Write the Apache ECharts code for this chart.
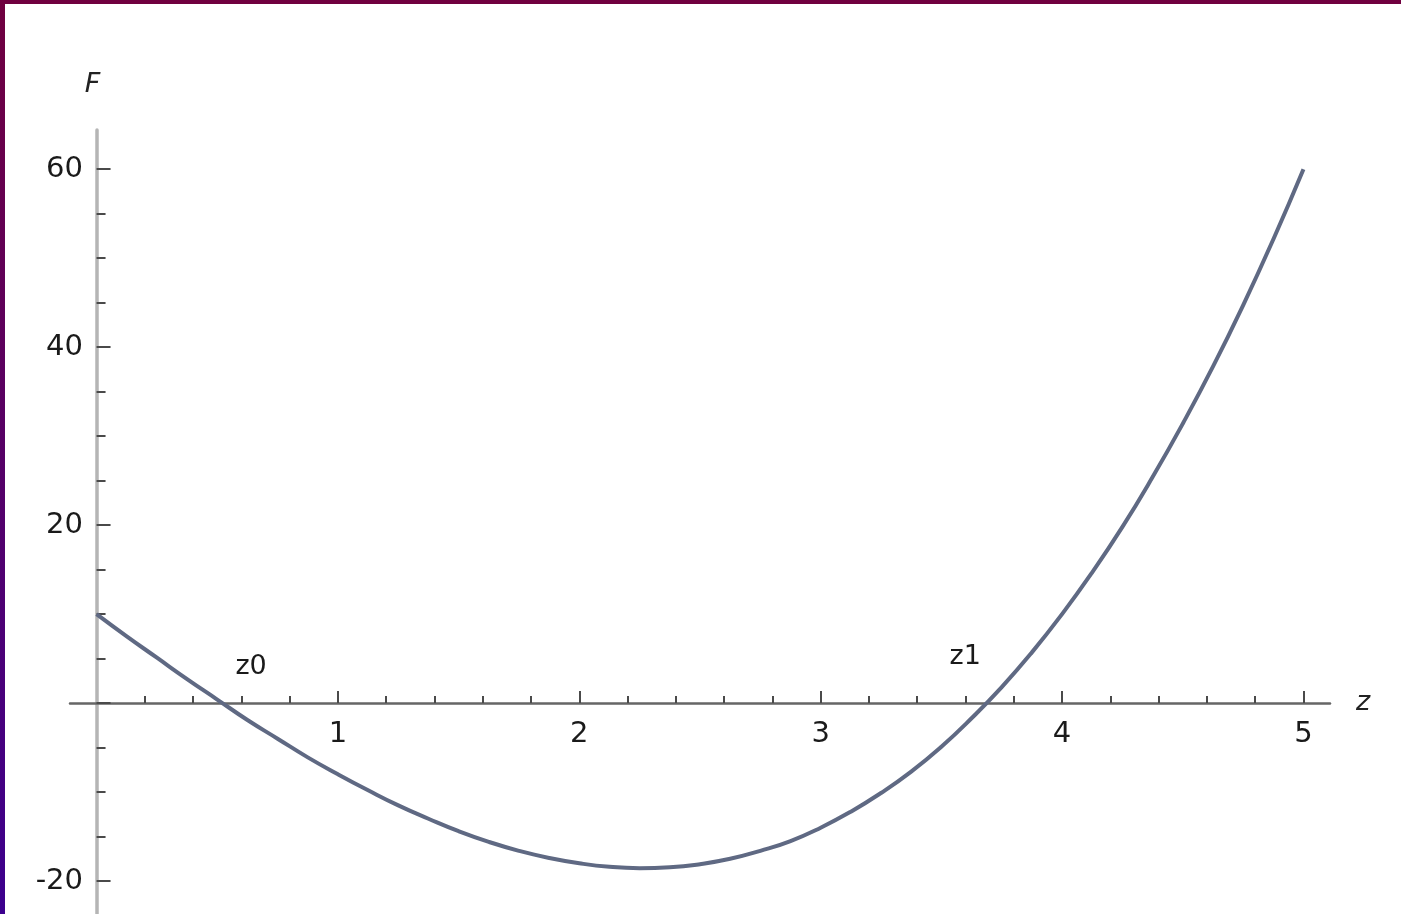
<!DOCTYPE html>
<html lang="en">

<head>
    <meta charset="UTF-8">
    <title>F(z)</title>
    <script src="https://cdn.jsdelivr.net/npm/echarts@6/dist/echarts.min.js"></script>
    <style>
        body {
            margin: 0;
            background: #fff;
        }

        #wrap {
            position: relative;
            width: 1401px;
            height: 914px;
            overflow: hidden;
        }

        #chart {
            position: absolute;
            left: 0;
            top: 0;
            width: 1401px;
            height: 914px;
        }

        .edge-top {
            position: absolute;
            left: 0;
            top: 0;
            width: 1401px;
            height: 4px;
            background: #70003f;
        }

        .edge-left {
            position: absolute;
            left: 0;
            top: 0;
            width: 5px;
            height: 914px;
            background: linear-gradient(#70003f, #3c008e);
        }
    </style>
</head>

<body>
    <div id="wrap">
        <div id="chart"></div>
        <div class="edge-top"></div>
        <div class="edge-left"></div>
    </div>

    <script type="text/javascript">
        // values
        var zValues = [0, 0.125, 0.25, 0.375, 0.5, 0.625, 0.75, 0.875, 1,
            1.125, 1.25, 1.375, 1.5, 1.625, 1.75, 1.875, 2,
            2.125, 2.25, 2.375, 2.5, 2.625, 2.75, 2.875, 3,
            3.125, 3.25, 3.375, 3.5, 3.625, 3.75, 3.875, 4,
            4.125, 4.25, 4.375, 4.5, 4.625, 4.75, 4.875, 5];
        var fValues = [10, 7.5, 5.1, 2.7, 0.4, -1.9, -4.0, -6.1, -8.0,
            -9.8, -11.5, -13.0, -14.4, -15.6, -16.6, -17.4, -18.0,
            -18.4, -18.55, -18.45, -18.1, -17.5, -16.6, -15.5, -14.0,
            -12.2, -10.1, -7.7, -4.9, -1.7, 1.8, 5.7, 10.0,
            14.7, 19.8, 25.4, 31.4, 37.8, 44.7, 52.1, 60];

        var xLabels = [1, 2, 3, 4, 5];
        var xMinorTicks = [0.2, 0.4, 0.6, 0.8, 1.2, 1.4, 1.6, 1.8, 2.2, 2.4, 2.6, 2.8,
            3.2, 3.4, 3.6, 3.8, 4.2, 4.4, 4.6, 4.8];
        var yLabels = [-20, 20, 40, 60];
        var yMajorTicks = [-20, 0, 20, 40, 60];
        var yMinorTicks = [-15, -10, -5, 5, 10, 15, 25, 30, 35, 45, 50, 55];

        // roots marked on the plot
        var rootNames = ['z0', 'z1'];
        var rootValues = [[0.52, 0], [3.69, 0]];

        var tickColor = '#4a4a4a';
        var textFont = 'DejaVu Sans';

        var chart = echarts.init(document.getElementById('chart'));

        var lineData = zValues.map(function (z, i) { return [z, fValues[i]]; });

        var option = {
            animation: false,
            backgroundColor: '#fff',
            grid: {
                left: 70,
                right: 71,
                top: 130,
                bottom: 0,
                outerBoundsMode: 'none'
            },
            xAxis: [
                {
                    type: 'value',
                    min: -0.11,
                    max: 5.11,
                    position: 'bottom',
                    name: 'z',
                    nameLocation: 'end',
                    nameGap: 26,
                    nameTextStyle: {
                        fontFamily: textFont,
                        fontStyle: 'italic',
                        fontSize: 27,
                        color: '#222'
                    },
                    axisLine: {
                        onZero: true,
                        onZeroAxisIndex: 0,
                        lineStyle: { color: '#666', width: 2.5 }
                    },
                    axisTick: {
                        show: true,
                        inside: true,
                        length: 12,
                        customValues: xLabels,
                        lineStyle: { color: tickColor, width: 2 }
                    },
                    axisLabel: {
                        customValues: xLabels,
                        // labels are laid out from the grid edge, pull them up to the zero line
                        margin: -194,
                        fontFamily: textFont,
                        fontSize: 29,
                        color: '#1a1a1a'
                    },
                    splitLine: { show: false }
                },
                {
                    // short ticks only
                    type: 'value',
                    min: -0.11,
                    max: 5.11,
                    position: 'bottom',
                    axisLine: {
                        show: false,
                        onZero: true,
                        onZeroAxisIndex: 0
                    },
                    axisTick: {
                        show: true,
                        inside: true,
                        length: 7,
                        customValues: xMinorTicks,
                        lineStyle: { color: tickColor, width: 2 }
                    },
                    axisLabel: { show: false },
                    splitLine: { show: false }
                }
            ],
            yAxis: [
                {
                    type: 'value',
                    min: -23.7,
                    max: 64.4,
                    position: 'left',
                    name: 'F',
                    nameLocation: 'end',
                    nameGap: 32,
                    nameTextStyle: {
                        fontFamily: textFont,
                        fontStyle: 'italic',
                        fontSize: 27,
                        color: '#222',
                        padding: [0, 8, 0, 0]
                    },
                    axisLine: {
                        onZero: true,
                        onZeroAxisIndex: 0,
                        lineStyle: { color: '#b5b5b5', width: 3.5 }
                    },
                    axisTick: {
                        show: true,
                        inside: true,
                        length: 14,
                        customValues: yMajorTicks,
                        lineStyle: { color: tickColor, width: 2 }
                    },
                    axisLabel: {
                        customValues: yLabels,
                        margin: -13,
                        fontFamily: textFont,
                        fontSize: 29,
                        color: '#1a1a1a'
                    },
                    splitLine: { show: false }
                },
                {
                    type: 'value',
                    min: -23.7,
                    max: 64.4,
                    position: 'left',
                    axisLine: {
                        show: false,
                        onZero: true,
                        onZeroAxisIndex: 0
                    },
                    axisTick: {
                        show: true,
                        inside: true,
                        length: 9,
                        customValues: yMinorTicks,
                        lineStyle: { color: tickColor, width: 2 }
                    },
                    axisLabel: { show: false },
                    splitLine: { show: false }
                }
            ],
            series: [
                {
                    type: 'line',
                    data: lineData,
                    smooth: true,
                    showSymbol: false,
                    lineStyle: { color: '#5f6983', width: 4 }
                },
                {
                    type: 'scatter',
                    symbolSize: 0,
                    itemStyle: { opacity: 1 },
                    data: [
                        { name: rootNames[0], value: rootValues[0], label: { offset: [29, -36] } },
                        { name: rootNames[1], value: rootValues[1], label: { offset: [-22, -46] } }
                    ],
                    label: {
                        show: true,
                        position: 'inside',
                        formatter: '{b}',
                        fontFamily: textFont,
                        fontSize: 27,
                        color: '#1a1a1a'
                    }
                }
            ]
        };

        chart.setOption(option);
    </script>

</body>

</html>
